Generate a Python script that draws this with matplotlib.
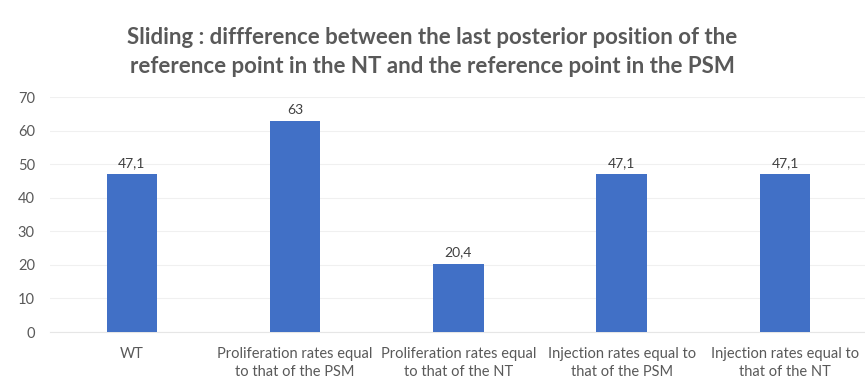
import numpy as np
import matplotlib.pyplot as plt

categories = ["WT",
              "Proliferation rates equal\nto that of the PSM",
              "Proliferation rates equal\nto that of the NT",
              "Injection rates equal to\nthat of the PSM",
              "Injection rates equal to\nthat of the NT"]
values = [47.1, 63, 20.4, 47.1, 47.1]
value_labels = ["47,1", "63", "20,4", "47,1", "47,1"]
yticks = [0, 10, 20, 30, 40, 50, 60, 70]

plt.rcParams['font.family'] = ['Lato', 'DejaVu Sans']

fig = plt.figure(figsize=(8.65, 3.87), dpi=100)
ax = fig.add_axes([0.058, 0.142, 0.944, 0.607])

x = np.arange(len(categories))
bars = ax.bar(x, values, width=0.31, color='#4170C6', zorder=3)

for xi, v, lab in zip(x, values, value_labels):
    ax.text(xi, v + 1.5, lab, ha='center', va='bottom', fontsize=10, color='#404040')

ax.set_xlim(-0.5, len(categories) - 0.5)
ax.set_ylim(0, 70)
ax.set_yticks(yticks)
ax.set_yticklabels([str(t) for t in yticks], fontsize=10.5, color='#595959')
ax.set_xticks(x)
ax.set_xticklabels(categories, fontsize=10.5, color='#595959', linespacing=1.35)
ax.tick_params(axis='both', length=0)
ax.tick_params(axis='y', pad=11)
ax.tick_params(axis='x', pad=11)

ax.grid(axis='y', color='#f0f0f0', linewidth=0.8, zorder=0)
for s in ['top', 'right', 'left']:
    ax.spines[s].set_visible(False)
ax.spines['bottom'].set_color('#e6e6e6')

fig.text(0.5, 0.866, "Sliding : diffference between the last posterior position of the\n"
         "reference point in the NT and the reference point in the PSM",
         ha='center', va='center', fontsize=16, fontweight='bold', color='#595959',
         linespacing=1.45)

fig.savefig('out.png', dpi=100)
